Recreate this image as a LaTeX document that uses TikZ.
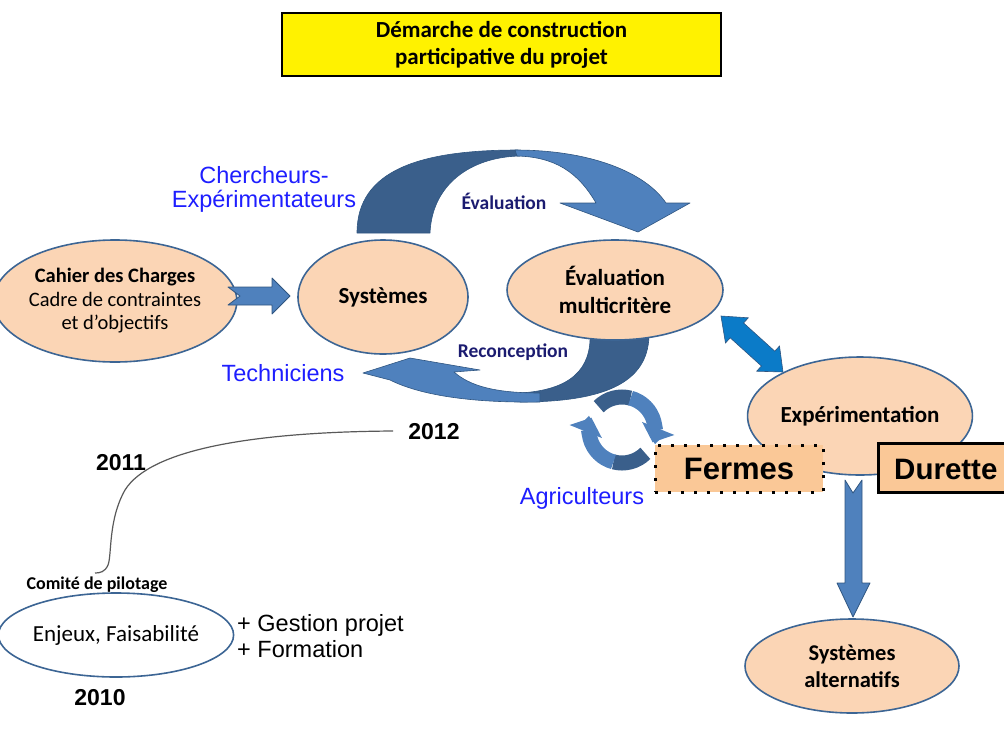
\documentclass[tikz,border=0pt]{standalone}
\usepackage{fontspec}
\setmainfont{Carlito}
\newfontfamily\arialf{Liberation Sans}
\usetikzlibrary{shapes.geometric,arrows.meta,calc}
\definecolor{peach}{HTML}{FBD5B5}
\definecolor{peachbox}{HTML}{FAC897}
\definecolor{edgeblue}{HTML}{3C6594}
\definecolor{arrlight}{HTML}{4F81BD}
\definecolor{arrdark}{HTML}{3A5F8B}
\definecolor{arredge}{HTML}{2F5580}
\definecolor{arrbright}{HTML}{0B7BC8}
\definecolor{labelblue}{HTML}{1E1EFF}
\definecolor{navylbl}{HTML}{1B1B70}
\begin{document}
\begin{tikzpicture}[x=1pt,y=-1pt,
  oval/.style={ellipse, draw=edgeblue, line width=1.6pt, fill=peach, inner sep=0pt, align=center},
  blockarrow/.style={fill=arrlight, draw=arredge, line width=0.8pt, line join=round},
  darkband/.style={fill=arrdark, draw=arredge, line width=0.6pt, line join=round},
  lightband/.style={fill=arrlight, draw=arredge, line width=0.6pt, line join=round},
  bluelbl/.style={font=\arialf\fontsize{23.5}{24}\selectfont, text=labelblue, align=center, inner sep=0pt},
  navylabel/.style={font=\fontsize{19.5}{21}\selectfont\bfseries, text=navylbl, inner sep=0pt},
  year/.style={font=\arialf\fontsize{23}{25}\selectfont\bfseries, inner sep=0pt},
  bigbox/.style={font=\arialf\fontsize{31}{33}\selectfont\bfseries}
]
\useasboundingbox (0,0) rectangle (1004,747);

% title
\node[draw=black, line width=2.5pt, fill=yellow, minimum width=439pt, minimum height=63pt,
      align=center, font=\fontsize{23}{27}\selectfont\bfseries] (title) at (501.5,44.5)
      {Démarche de construction\\participative du projet};

% top curved arrow (Evaluation)
\fill[darkband] (357,233) .. controls (357,170) and (420,150) .. (518,150)
   -- (520,156) .. controls (470,157) and (432,185) .. (430,233) -- cycle;
\fill[lightband] (515,150) .. controls (590,150) and (645,172) .. (666,203)
   -- (690,203) -- (638,232) -- (560,203) -- (596,203)
   .. controls (578,172) and (555,157) .. (517,156) -- cycle;

% bottom curved arrow (Reconception)
\fill[darkband] (590,332) .. controls (592,370) and (570,390) .. (520,393)
   -- (520,402) .. controls (610,402) and (650,380) .. (649,332) -- cycle;
\fill[lightband] (363,373) -- (410,358) -- (480,370) -- (454,372)
   .. controls (470,386) and (495,393) .. (540,393) -- (540,402)
   .. controls (470,403) and (420,395) .. (390,380) -- cycle;

% ellipses
\node[oval, minimum width=214pt, minimum height=122pt, font=\fontsize{20.5}{23.5}\selectfont] (cahier) at (115,301)
   {\textbf{Cahier des Charges}\\Cadre de contraintes\\et d’objectifs};
\node[oval, minimum width=170pt, minimum height=114pt, font=\fontsize{23}{26}\selectfont\bfseries] (sys) at (383,297) {Systèmes};
\node[oval, minimum width=216pt, minimum height=100pt, font=\fontsize{23}{28}\selectfont\bfseries] (evalm) at (615,290) {Évaluation\\multicritère};

% down arrow
\fill[blockarrow] (845,480) -- (853,493) -- (862,480) -- (862,583) -- (870,583) -- (853,617) -- (837,583) -- (845,583) -- cycle;

\node[oval, minimum width=216pt, minimum height=118pt, font=\fontsize{23}{26}\selectfont\bfseries] (exper) at (860,416) {Expérimentation};
\node[oval, minimum width=214pt, minimum height=94pt, font=\fontsize{22.5}{27}\selectfont\bfseries] (alt) at (852,666) {Systèmes\\alternatifs};
\node[oval, fill=white, minimum width=212pt, minimum height=84pt, font=\fontsize{23}{24}\selectfont] (enjeux) at (116,635) {Enjeux, Faisabilité};

% Cahier -> Systemes arrow
\fill[blockarrow] (228,287) -- (272,287) -- (272,278) -- (290,296) -- (272,314) -- (272,305) -- (228,305) -- (240,296) -- cycle;

% double arrow
\fill[fill=arrbright, draw=arredge, line width=0.6pt, line join=miter]
  (721,316) -- (748.3,317.8) -- (743.6,323.0) -- (774.8,351.2) -- (779.5,346.0) -- (783,372)
  -- (756.7,371.2) -- (761.4,366.0) -- (730.2,337.8) -- (725.5,343.0) -- cycle;

% circular arrows
\coordinate (cyc) at (622,430);
\draw[arrdark, line width=15pt] ($(cyc)+(-135:33)$) arc (-135:-75:33);
\draw[arrlight, line width=15pt, -{Triangle[length=15pt,width=34pt]}] ($(cyc)+(-75:33)$) arc (-75:22:33);
\draw[arrdark, line width=15pt] ($(cyc)+(45:33)$) arc (45:105:33);
\draw[arrlight, line width=15pt, -{Triangle[length=15pt,width=34pt]}] ($(cyc)+(105:33)$) arc (105:202:33);

% boxes
\node[fill=peachbox, draw=black, line width=3pt, dash pattern=on 3pt off 10pt,
      minimum width=168pt, minimum height=47pt, bigbox] (fermes) at (739,468.5) {Fermes};
\node[fill=peachbox, draw=black, line width=3pt, minimum width=150pt, minimum height=49pt] (durbox) at (953,467.5) {};
\node[font=\arialf\fontsize{29.5}{31}\selectfont\bfseries, anchor=west, inner sep=0pt] (durette) at (894,469) {Durette};

% labels
\node[bluelbl] (cherch) at (264,189) {Chercheurs-\\Expérimentateurs};
\node[bluelbl] (tech) at (283,373) {Techniciens};
\node[bluelbl] (agri) at (582,498) {Agriculteurs};
\node[navylabel] (evlbl) at (504,201) {Évaluation};
\node[navylabel] (reclbl) at (513,352) {Reconception};

% timeline
\node[year] (y2012) at (434,432) {2012};
\node[year] (y2011) at (121,463) {2011};
\node[year] (y2010) at (100,698) {2010};
\node[font=\fontsize{18}{19}\selectfont\bfseries, inner sep=0pt] (comite) at (97,585) {Comité de pilotage};
\node[font=\arialf\fontsize{23.5}{26}\selectfont, align=left, anchor=west, inner sep=0pt] (gestion) at (237,636) {+ Gestion projet\\+ Formation};
\coordinate (tlstart) at (393,431);
\coordinate (tlend) at (95,573);
\draw[black!65, line width=1.2pt] (tlstart) .. controls (250,432) and (150,450) .. (125,490)
   .. controls (108,520) and (112,555) .. (108,565) .. controls (105,572) and (100,573) .. (tlend);
\end{tikzpicture}
\end{document}
